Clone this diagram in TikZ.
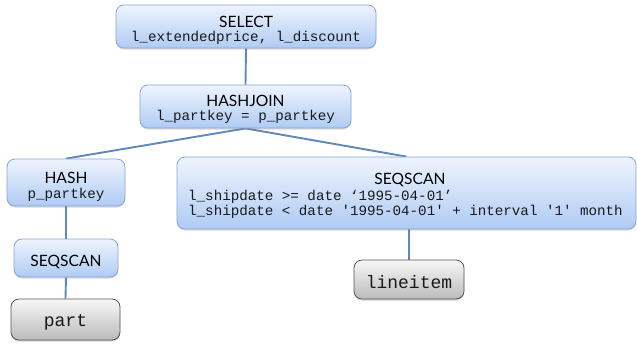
\documentclass[tikz,border=0pt]{standalone}
\usepackage{fontspec}
\newfontfamily\titlefont{Lato}
\newfontfamily\codefont{Liberation Mono}
\usetikzlibrary{shadows,backgrounds}

\definecolor{boxtop}{HTML}{EEF4FE}
\definecolor{boxbot}{HTML}{AFCBF4}
\definecolor{boxline}{HTML}{86A6D6}
\definecolor{reltop}{HTML}{F7F7F7}
\definecolor{relbot}{HTML}{BBBBBB}
\definecolor{relline}{HTML}{555555}
\definecolor{edge}{HTML}{5F88BC}

\tikzset{
  opbox/.style={draw=boxline, line width=0.8pt, rounded corners=8pt,
    top color=boxtop, bottom color=boxbot, inner sep=0pt,
    drop shadow={shadow xshift=0pt, shadow yshift=-1.5pt, opacity=0.25, fill=black!60}},
  relbox/.style={draw=relline, line width=0.8pt, rounded corners=8pt,
    top color=reltop, bottom color=relbot, inner sep=0pt,
    drop shadow={shadow xshift=0pt, shadow yshift=-1.5pt, opacity=0.3, fill=black!60}},
  optitle/.style={anchor=base, inner sep=0pt, font=\titlefont\fontsize{15.6}{18}\selectfont, text=black},
  opcode/.style={inner sep=0pt, font=\codefont\fontsize{14.2}{16}\selectfont, text=black!90},
  relname/.style={anchor=base, inner sep=0pt, font=\codefont\fontsize{18}{20}\selectfont, text=black!90},
  link/.style={draw=edge, line width=1.9pt}
}

\begin{document}
\begin{tikzpicture}[x=1pt, y=-1pt]
  \useasboundingbox (0,0) rectangle (637,346);

  % operator and relation boxes
  \node[opbox, minimum width=260pt, minimum height=43pt] (sel) at (246,26.5) {};
  \node[opbox, minimum width=211pt, minimum height=43pt] (hj) at (245.5,106.5) {};
  \node[opbox, minimum width=118pt, minimum height=47pt] (hash) at (66,182.5) {};
  \node[opbox, minimum width=104pt, minimum height=38pt] (scanp) at (66,258) {};
  \node[relbox, minimum width=109pt, minimum height=41pt] (part) at (65.5,319.5) {};
  \node[opbox, minimum width=459pt, minimum height=72pt] (scanl) at (406.5,193) {};
  \node[relbox, minimum width=110pt, minimum height=39pt] (li) at (409,279.5) {};

  % labels
  \node[optitle] (selT) at (246,27.5) {SELECT};
  \node[opcode, anchor=base] (selC) at (246,41) {l\_extendedprice, l\_discount};
  \node[optitle] (hjT) at (245.5,106) {HASHJOIN};
  \node[opcode, anchor=base] (hjC) at (245.5,120.7) {l\_partkey = p\_partkey};
  \node[optitle] (hashT) at (66,183) {HASH};
  \node[opcode, anchor=base] (hashC) at (66,198) {p\_partkey};
  \node[optitle] (scanpT) at (66,266) {SEQSCAN};
  \node[relname] (partT) at (65.5,326.7) {part};
  \node[optitle] (scanlT) at (410,184) {SEQSCAN};
  \node[opcode, anchor=base west] (scanlA) at (188,200.7) {l\_shipdate >= date ‘1995-04-01’};
  \node[opcode, anchor=base west] (scanlB) at (188,215.7) {l\_shipdate < date '1995-04-01' + interval '1' month};
  \node[relname] (liT) at (409,288.3) {lineitem};

  % plan edges, drawn beneath the boxes
  \begin{scope}[on background layer]
    \draw[link] (sel.south) -- (hj.north);
    \draw[link] (hj.south) -- (hash.north);
    \draw[link] (hj.south) -- (scanl.north);
    \draw[link] (hash.south) -- (scanp.north);
    \draw[link] (scanp.south) -- (part.north);
    \draw[link] (li.north |- scanl.south) -- (li.north);
  \end{scope}
\end{tikzpicture}
\end{document}
